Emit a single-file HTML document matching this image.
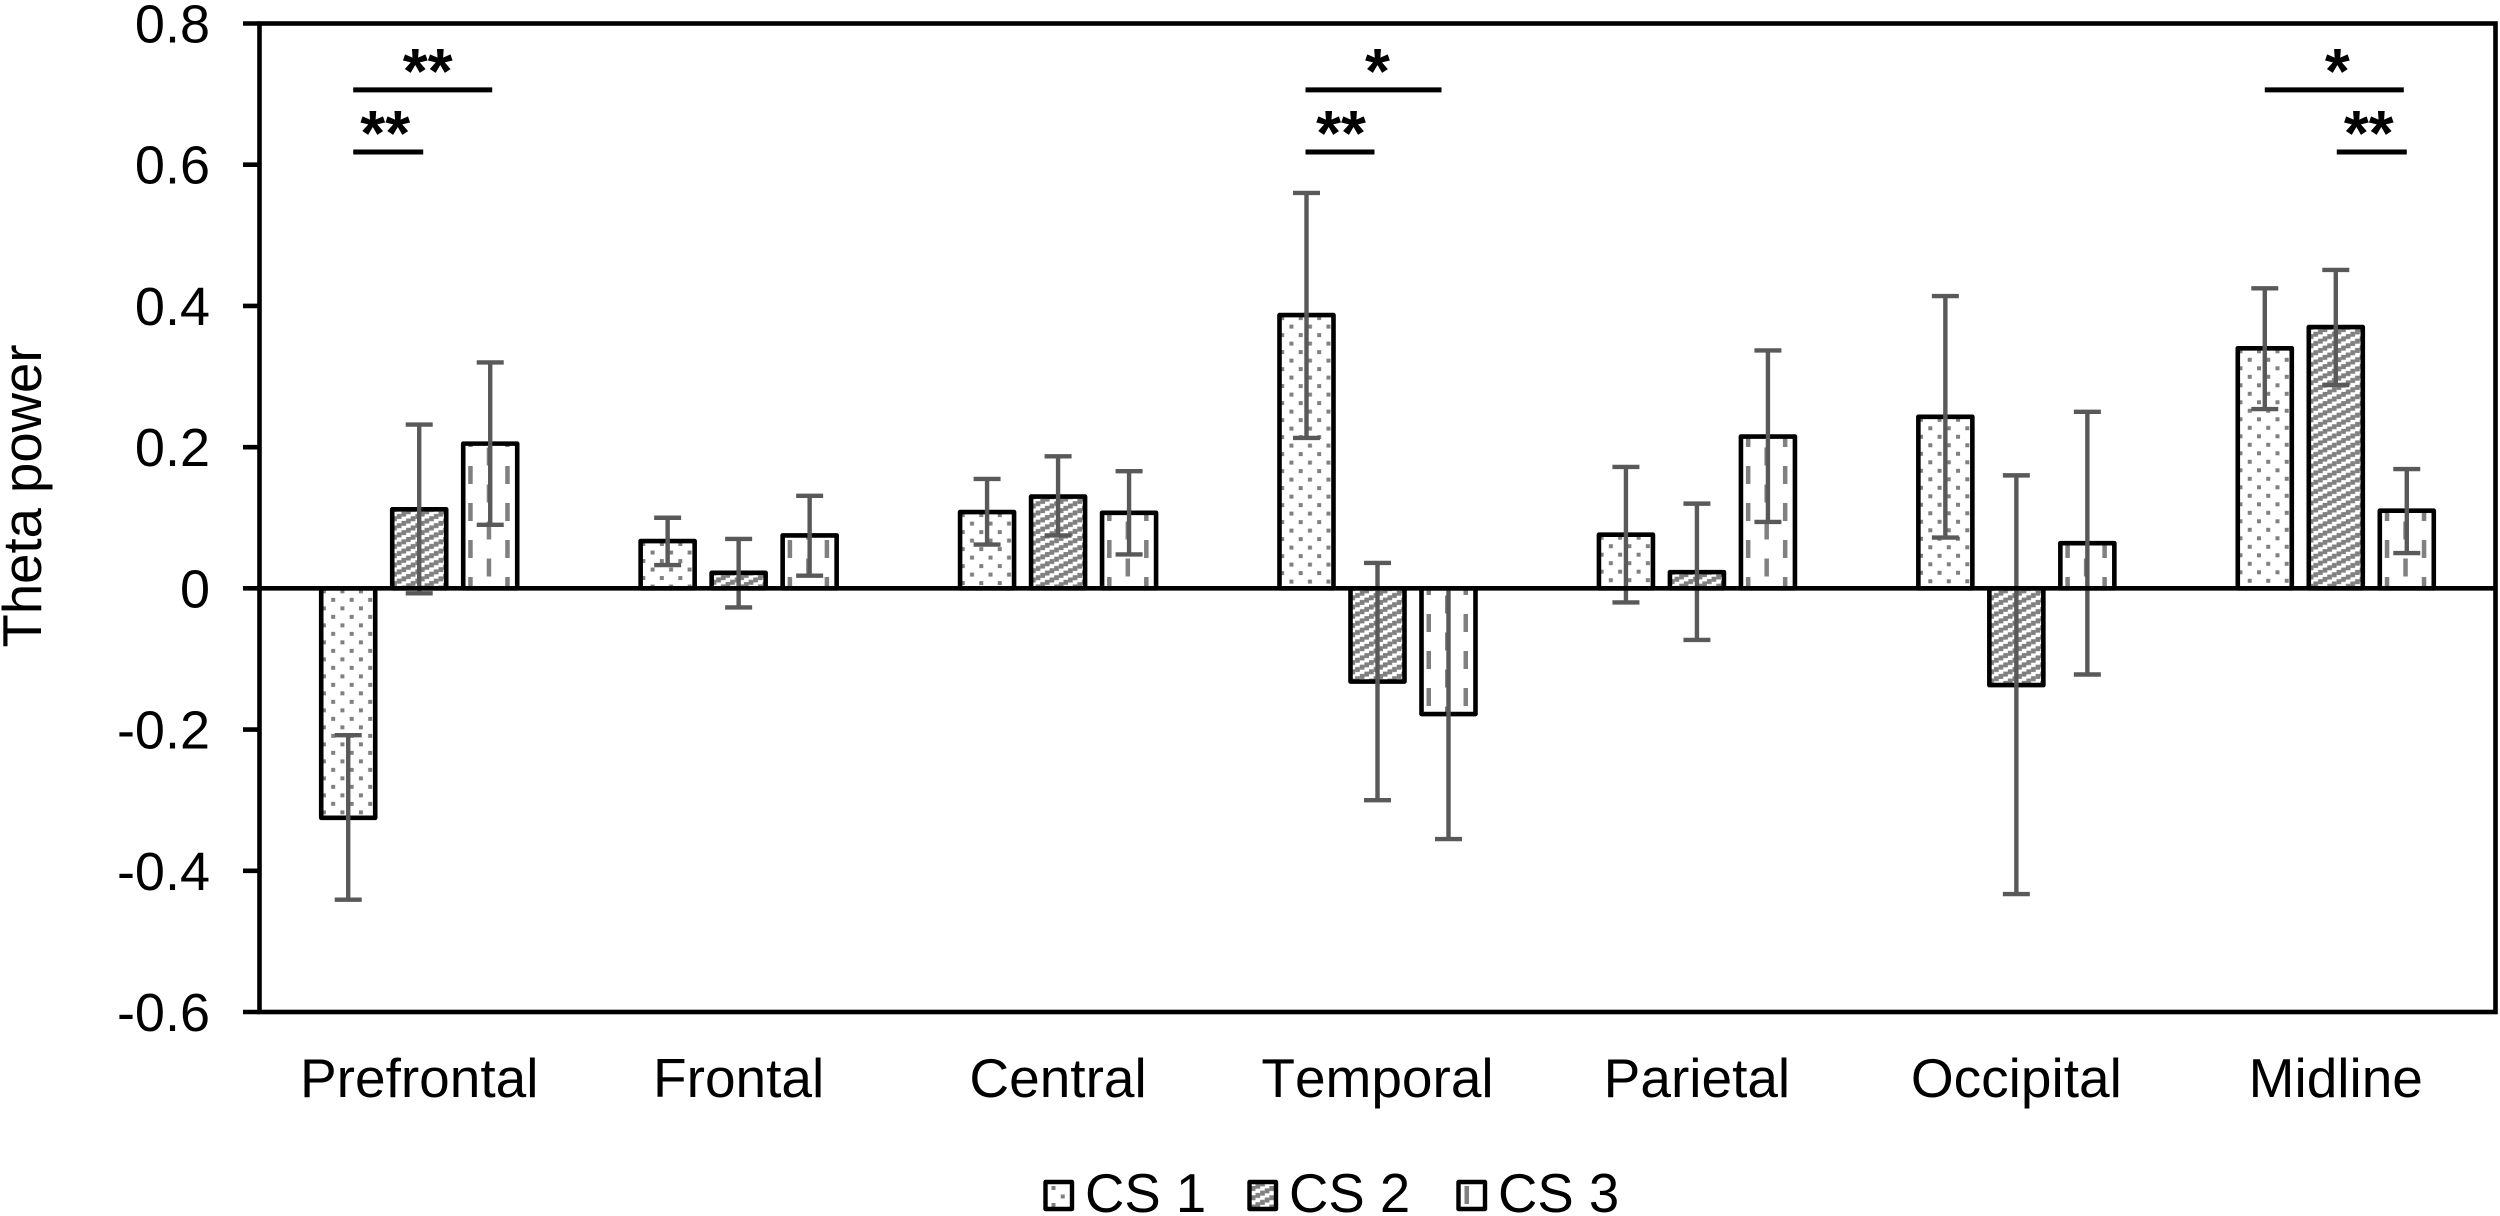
<!DOCTYPE html>
<html lang="en">
<head>
<meta charset="utf-8">
<title>Theta power by region</title>
<style>
html,body{margin:0;padding:0;background:#fff;}
body{width:2500px;height:1216px;overflow:hidden;}
svg{display:block;}
text{font-family:"Liberation Sans",Arial,sans-serif;fill:#000;font-kerning:none;}
</style>
</head>
<body>
<svg id="chart" xmlns="http://www.w3.org/2000/svg" width="2500" height="1216" viewBox="0 0 2500 1216"></svg>
<script>
const categories = ["Prefrontal","Frontal","Central","Temporal","Parietal","Occipital","Midline"];
const seriesNames = ["CS 1","CS 2","CS 3"];
const cs1Values = [-0.325,0.067,0.108,0.387,0.076,0.243,0.340];
const cs2Values = [0.112,0.022,0.130,-0.132,0.023,-0.137,0.370];
const cs3Values = [0.205,0.075,0.107,-0.178,0.215,0.064,0.110];
const cs1Upper = [-0.208,0.100,0.155,0.560,0.172,0.414,0.425];
const cs2Upper = [0.232,0.070,0.187,0.036,0.120,0.160,0.451];
const cs3Upper = [0.320,0.131,0.166,0.000,0.337,0.250,0.169];
const cs1Lower = [-0.441,0.033,0.062,0.213,-0.020,0.072,0.254];
const cs2Lower = [-0.007,-0.027,0.075,-0.300,-0.073,-0.433,0.288];
const cs3Lower = [0.090,0.018,0.048,-0.355,0.094,-0.122,0.050];
const yTicks = [0.8,0.6,0.4,0.2,0,-0.2,-0.4,-0.6];
const yTickLabels = ["0.8","0.6","0.4","0.2","0","-0.2","-0.4","-0.6"];
const bracketCategories = [0,0,3,3,6,6];
const bracketFrom = [0,0,0,0,0,1];
const bracketTo = [2,1,2,1,2,2];
const bracketLevels = [0.706,0.618,0.706,0.618,0.706,0.618];
const bracketStars = ["**","**","*","**","*","**"];

const seriesValues = [cs1Values,cs2Values,cs3Values];
const seriesUpper = [cs1Upper,cs2Upper,cs3Upper];
const seriesLower = [cs1Lower,cs2Lower,cs3Lower];

const svg = document.getElementById('chart');
const NS = 'http://www.w3.org/2000/svg';
const plot = {left:259.5,right:2495.5,top:23.5,bottom:1012};
const yMax = 0.8, yMin = -0.6;
const barPitch = 71, barW = 54, capW = 27;
const GREY = '#808080', ERR = '#595959';

function yScale(v){return plot.top+(yMax-v)/(yMax-yMin)*(plot.bottom-plot.top);}
function groupCenter(i){return plot.left+(plot.right-plot.left)/categories.length*(i+0.5);}
function barCenter(c,s){return groupCenter(c)+(s-1)*barPitch;}
function mk(tag,attrs,parent){
  const e=document.createElementNS(NS,tag);
  for(const k in attrs){e.setAttribute(k,attrs[k]);}
  (parent||svg).appendChild(e);
  return e;
}
const defs = mk('defs',{});
function makePattern(id,kind,ax,ay){
  let w=18.5,h=17;
  if(kind===1){w=18.5;h=9.25;}
  if(kind===2){w=37;h=37;}
  const p=mk('pattern',{id:id,patternUnits:'userSpaceOnUse',x:ax,y:ay,width:w,height:h},defs);
  mk('rect',{x:0,y:0,width:w,height:h,fill:'#fff'},p);
  if(kind===0){
    mk('rect',{x:0,y:0,width:4,height:4,fill:GREY},p);
    mk('rect',{x:9.25,y:8.5,width:4,height:4,fill:GREY},p);
  }else if(kind===1){
    for(let i=0;i<4;i++){
      const sx=i*4.625, sy=9.25-(i+1)*2.3125;
      mk('rect',{x:sx,y:sy,width:4.7,height:5,fill:GREY},p);
      mk('rect',{x:sx,y:sy+9.25,width:4.7,height:5,fill:GREY},p);
      mk('rect',{x:sx,y:sy-9.25,width:4.7,height:5,fill:GREY},p);
    }
  }else{
    mk('rect',{x:0,y:0,width:4.5,height:18,fill:GREY},p);
    mk('rect',{x:18.5,y:18.5,width:4.5,height:18,fill:GREY},p);
  }
  return 'url(#'+id+')';
}

// y axis ticks and labels
yTicks.forEach(function(v,i){
  const y=yScale(v);
  const tick=mk('line',{x1:243,x2:plot.left,y1:y,y2:y,stroke:'#000','stroke-width':4.6});
  
  
  const t=mk('text',{x:210,y:y+19,'text-anchor':'end','font-size':54});
  t.textContent=yTickLabels[i];
  
  
});

// bars
categories.forEach(function(cat,c){
  seriesValues.forEach(function(vals,s){
    const cx=barCenter(c,s);
    const y0=yScale(0), y1=yScale(vals[c]);
    const top=Math.min(y0,y1);
    const ax=cx-barW/2+(s===2?5:s===0?0.7:0);
    const ay=(s===0)?top+1:(s===2?22:top);
    const fill=makePattern('p'+c+'-'+s,s,ax,ay);
    const bar=mk('rect',{x:cx-barW/2,y:top,width:barW,height:Math.abs(y1-y0),fill:fill,stroke:'#000','stroke-width':4.6,'stroke-linejoin':'round'});
    
    
  });
});

// error bars
categories.forEach(function(cat,c){
  seriesValues.forEach(function(vals,s){
    const cx=barCenter(c,s);
    const yu=yScale(seriesUpper[s][c]), yl=yScale(seriesLower[s][c]);
    const g=mk('g',{stroke:ERR,'stroke-width':4.4,fill:'none'});
    
    
    mk('line',{x1:cx,x2:cx,y1:yu,y2:yl},g);
    mk('line',{x1:cx-capW/2,x2:cx+capW/2,y1:yu,y2:yu},g);
    mk('line',{x1:cx-capW/2,x2:cx+capW/2,y1:yl,y2:yl},g);
  });
});

// plot frame and zero line
const frame=mk('rect',{x:plot.left,y:plot.top,width:plot.right-plot.left,height:plot.bottom-plot.top,fill:'none',stroke:'#000','stroke-width':4.6});


const zero=mk('line',{x1:plot.left,x2:plot.right,y1:yScale(0),y2:yScale(0),stroke:'#000','stroke-width':4.6});



// category labels
categories.forEach(function(cat,c){
  const t=mk('text',{x:groupCenter(c),y:1097,'text-anchor':'middle','font-size':55});
  t.textContent=cat;
  
  
});

// significance brackets: hand-placed pixel nudges relative to the bar centres
const layoutNudge = {
  start:function(i){return i<2?5:(i<4?-1:(i===4?0:1));},
  end:function(i){return i===0?2:(i===1?4:(i===2?-7:(i===3?-3:(i===4?-3:0))));},
  star:function(i){return i===0?5:(i===1?-3:(i===2?4:(i===3?1:(i===4?3:-3))));}
};
bracketCategories.forEach(function(c,i){
  const x1=barCenter(c,bracketFrom[i])+layoutNudge.start(i);
  const x2=barCenter(c,bracketTo[i])+layoutNudge.end(i);
  const y=yScale(bracketLevels[i]);
  const l=mk('line',{x1:x1,x2:x2,y1:y,y2:y,stroke:'#000','stroke-width':5});
  
  
  const t=mk('text',{x:(x1+x2)/2+layoutNudge.star(i),y:y+3,'text-anchor':'middle','font-size':64,'font-weight':'bold'});
  t.textContent=bracketStars[i];
  
  
});

// y axis title
const yTitle=mk('text',{x:0,y:0,transform:'translate(41 496) rotate(-90)','text-anchor':'middle','font-size':54.5});
yTitle.textContent='Theta power';



// legend
seriesNames.forEach(function(name,s){
  const x=1045.5+s*204+(s===2?5:0);
  const fill=makePattern('leg'+s,s,x+6,1186);
  const box=mk('rect',{x:x,y:1182,width:26.5,height:27,fill:fill,stroke:'#000','stroke-width':4.4,'stroke-linejoin':'round'});
  
  
  const t=mk('text',{x:x+39.5,y:1212,'font-size':54.5});
  t.textContent=name;
  
  
});
</script>
</body>
</html>
